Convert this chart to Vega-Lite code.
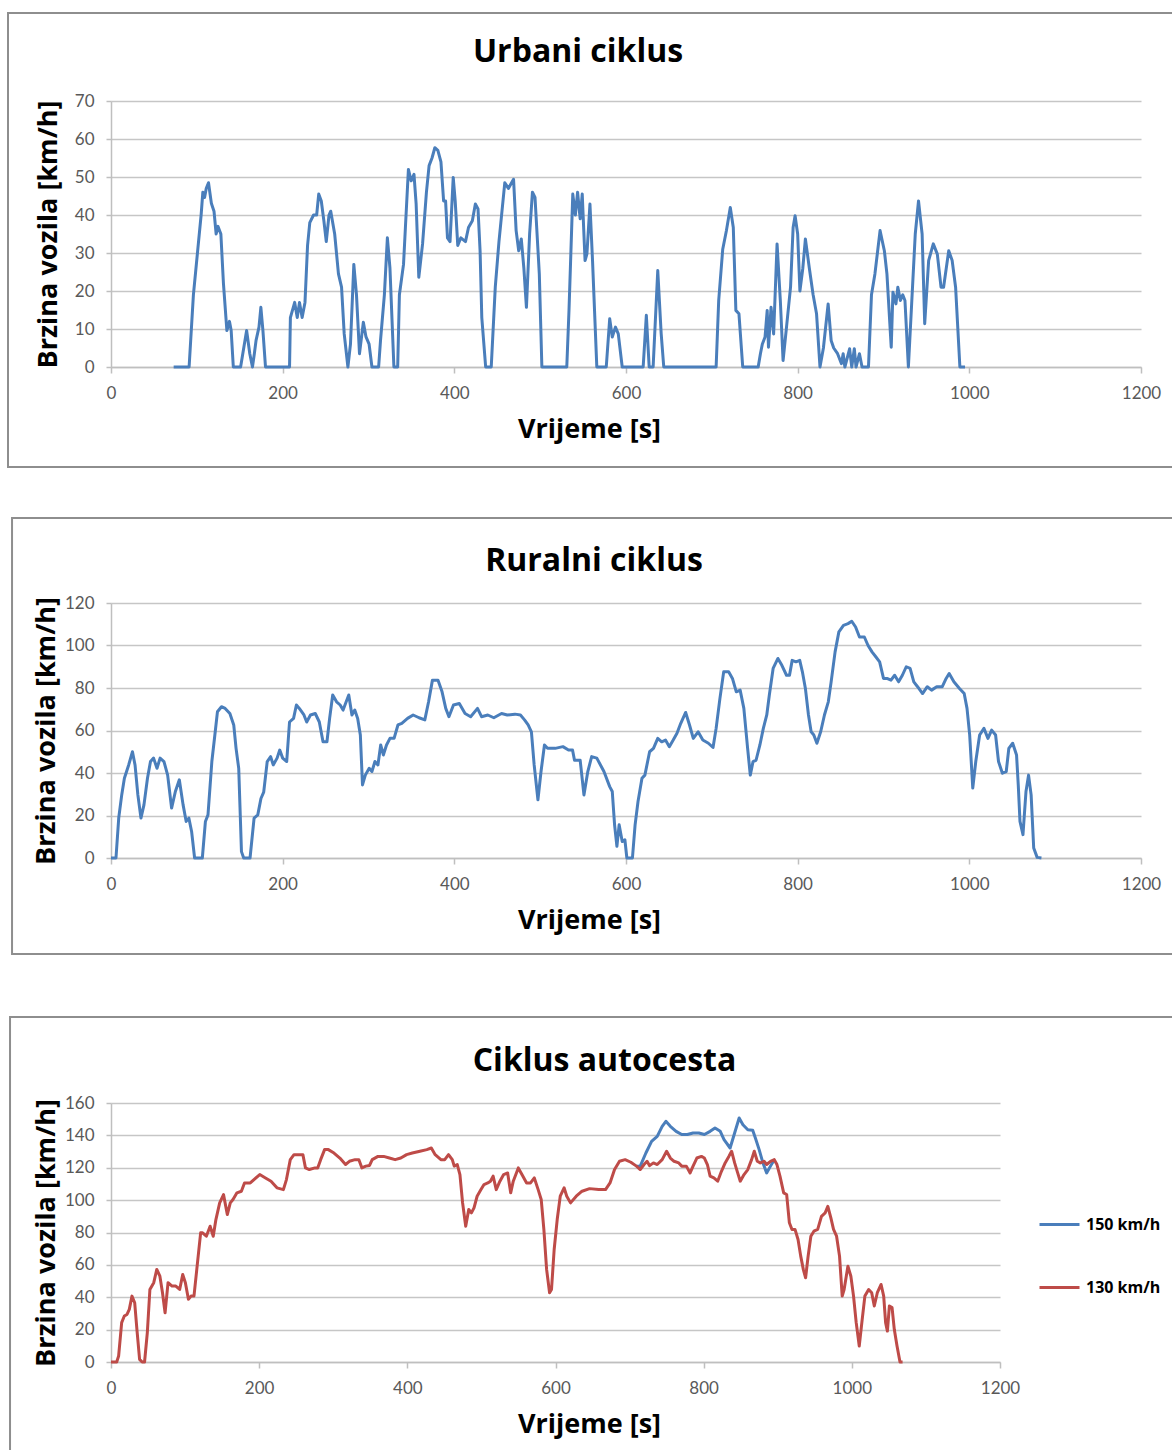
{
  "$schema": "https://vega.github.io/schema/vega-lite/v6.json",
  "padding": {"top": 11, "left": 7, "right": 0, "bottom": 0},
  "background": "white",
  "config": {
    "view": {"stroke": null},
    "axis": {"labelFont": "Lato", "labelFontSize": 17, "labelColor": "#595959", "titleFont": "Open Sans", "titleFontWeight": "bold", "titleFontSize": 27, "titleColor": "#000000", "domainColor": "#BFBFBF", "domainWidth": 1.5, "tickColor": "#BFBFBF", "tickWidth": 1.5, "gridColor": "#C6C6C6", "gridWidth": 1.5},
    "axisX": {"grid": false, "tickSize": 6, "labelPadding": 12, "titlePadding": 15, "labelFlush": false},
    "axisY": {"grid": true, "tickSize": 5, "labelPadding": 12, "titlePadding": 12},
    "title": {"font": "Open Sans", "fontWeight": "bold", "fontSize": 32, "color": "#000000", "anchor": "middle", "frame": "group", "baseline": "alphabetic"},
    "line": {"strokeWidth": 3, "strokeJoin": "round"}
  },
  "datasets": {
    "urban": [
      {"t":73,"v":0},{"t":91,"v":0},{"t":96,"v":19},{"t":105,"v":40},{"t":107,"v":46},{"t":109,"v":44.6},{"t":111,"v":47},{"t":113.6,"v":48.5},{"t":117,"v":43},{"t":120,"v":41},{"t":122.5,"v":35},{"t":124.7,"v":37},{"t":128,"v":35},{"t":131,"v":22},{"t":135,"v":9.6},{"t":138,"v":12},{"t":140,"v":9.6},{"t":142.5,"v":0},{"t":151,"v":0},{"t":158,"v":9.6},{"t":161.7,"v":3.5},{"t":164.8,"v":0},{"t":167,"v":3.5},{"t":169,"v":7},{"t":172.4,"v":10.5},{"t":174.6,"v":15.7},{"t":177,"v":9.6},{"t":180,"v":0},{"t":208,"v":0},{"t":209,"v":13},{"t":214,"v":17},{"t":217,"v":13},{"t":219.6,"v":17},{"t":222.7,"v":13},{"t":226,"v":17},{"t":229,"v":32},{"t":231.6,"v":38},{"t":236,"v":40},{"t":239.6,"v":40},{"t":242,"v":45.5},{"t":245,"v":43.7},{"t":248,"v":38.5},{"t":250.8,"v":33},{"t":254,"v":40},{"t":256,"v":41},{"t":260.6,"v":35},{"t":265,"v":24.5},{"t":268.6,"v":21},{"t":271.7,"v":8.7},{"t":276,"v":0},{"t":279,"v":6},{"t":282.9,"v":27},{"t":286,"v":19},{"t":289.5,"v":3.5},{"t":294,"v":11.8},{"t":297,"v":8},{"t":300.7,"v":6},{"t":304,"v":0},{"t":311.8,"v":0},{"t":314,"v":7},{"t":318.5,"v":19},{"t":322,"v":34},{"t":325,"v":26},{"t":329.6,"v":0},{"t":334,"v":0},{"t":336,"v":19},{"t":340.8,"v":27},{"t":343,"v":36.7},{"t":346.5,"v":52},{"t":349.7,"v":49},{"t":353,"v":50.7},{"t":355.5,"v":42.9},{"t":358.6,"v":23.6},{"t":363,"v":32.4},{"t":367.5,"v":46},{"t":370.6,"v":53},{"t":374,"v":55},{"t":377.3,"v":57.7},{"t":380.8,"v":57},{"t":384.4,"v":54},{"t":387.5,"v":43.7},{"t":389.8,"v":43.7},{"t":392,"v":34},{"t":395,"v":33},{"t":398.7,"v":49.9},{"t":401,"v":43.7},{"t":404,"v":32},{"t":407.6,"v":34},{"t":413,"v":33},{"t":416.5,"v":36.7},{"t":421,"v":38.5},{"t":424.5,"v":42.9},{"t":427.6,"v":41.6},{"t":430,"v":30.6},{"t":432,"v":13},{"t":436.5,"v":0},{"t":443,"v":0},{"t":447.7,"v":21},{"t":452,"v":33},{"t":458.8,"v":48.5},{"t":463,"v":47},{"t":469,"v":49.4},{"t":472,"v":35.9},{"t":475,"v":30.6},{"t":478,"v":33.7},{"t":481,"v":26},{"t":484,"v":15.7},{"t":487.7,"v":35},{"t":491,"v":46},{"t":494,"v":44.6},{"t":499,"v":24.5},{"t":502,"v":0},{"t":531,"v":0},{"t":533.6,"v":15},{"t":538,"v":45.5},{"t":541,"v":40},{"t":543.6,"v":46},{"t":546.6,"v":39},{"t":549,"v":45.5},{"t":552.3,"v":28},{"t":554.5,"v":29.8},{"t":558,"v":42.9},{"t":561,"v":28},{"t":566,"v":0},{"t":577,"v":0},{"t":581,"v":12.7},{"t":584,"v":7.9},{"t":587.7,"v":10.5},{"t":591,"v":8.7},{"t":595.6,"v":0},{"t":620,"v":0},{"t":623.7,"v":13.6},{"t":627,"v":0},{"t":631.6,"v":0},{"t":637,"v":25.4},{"t":641,"v":8.7},{"t":644,"v":0},{"t":705,"v":0},{"t":708,"v":17.5},{"t":712.7,"v":31},{"t":717,"v":35.9},{"t":721.5,"v":42},{"t":725,"v":36.7},{"t":728,"v":14.9},{"t":731.6,"v":14},{"t":736,"v":0},{"t":754,"v":0},{"t":756.6,"v":3.5},{"t":758.8,"v":6},{"t":762,"v":7.9},{"t":764.5,"v":14.9},{"t":766,"v":5.2},{"t":769,"v":15.7},{"t":772,"v":8.7},{"t":776,"v":32.4},{"t":779.8,"v":17.5},{"t":783,"v":1.7},{"t":787,"v":10.5},{"t":791.7,"v":21},{"t":794.7,"v":36.7},{"t":797,"v":39.8},{"t":800,"v":35},{"t":802.6,"v":20},{"t":806,"v":26},{"t":809,"v":33.7},{"t":813.6,"v":26},{"t":818,"v":19},{"t":822,"v":14},{"t":826,"v":0},{"t":830,"v":5},{"t":835.5,"v":16.6},{"t":839,"v":7},{"t":842,"v":5},{"t":846.5,"v":3.5},{"t":851,"v":0.9},{"t":853,"v":3.5},{"t":855,"v":0},{"t":860.5,"v":4.8},{"t":863,"v":0},{"t":866,"v":4.8},{"t":868,"v":0},{"t":872,"v":3.5},{"t":875,"v":0},{"t":882.5,"v":0},{"t":886,"v":19},{"t":890,"v":24.5},{"t":896,"v":35.9},{"t":901,"v":30.6},{"t":904,"v":24.5},{"t":909,"v":5.2},{"t":911,"v":19.7},{"t":914.5,"v":16.6},{"t":916.7,"v":21},{"t":919.7,"v":17.5},{"t":922.4,"v":19},{"t":925,"v":17.5},{"t":929,"v":0},{"t":933,"v":17.5},{"t":937,"v":35},{"t":940.8,"v":43.7},{"t":945,"v":35},{"t":948,"v":11.4},{"t":952.6,"v":28},{"t":958,"v":32.4},{"t":962.7,"v":29.7},{"t":967,"v":21},{"t":970,"v":21},{"t":976,"v":30.6},{"t":980,"v":28},{"t":984,"v":21},{"t":989,"v":0},{"t":995,"v":0}
    ],
    "rural": [
      {"t":0,"v":0},{"t":5.8,"v":0},{"t":9,"v":18.8},{"t":12.5,"v":29.7},{"t":15.6,"v":37.5},{"t":20.6,"v":43.8},{"t":25,"v":50},{"t":28,"v":43.8},{"t":31.3,"v":29.7},{"t":34.9,"v":18.8},{"t":38.4,"v":25},{"t":42.5,"v":37.5},{"t":46,"v":45.4},{"t":49.6,"v":47},{"t":53.6,"v":42.2},{"t":57.2,"v":47},{"t":61.7,"v":45.4},{"t":66,"v":39},{"t":70.6,"v":23.5},{"t":75,"v":31.3},{"t":79.6,"v":36.8},{"t":84,"v":25},{"t":87.6,"v":17.2},{"t":90.7,"v":18.8},{"t":93.9,"v":12.5},{"t":97.4,"v":0},{"t":106.4,"v":0},{"t":110,"v":17.2},{"t":113,"v":20.3},{"t":117.5,"v":45.4},{"t":121,"v":57.9},{"t":124,"v":68.8},{"t":128.7,"v":71.2},{"t":133,"v":70.4},{"t":138.5,"v":68},{"t":143,"v":62.6},{"t":145.7,"v":51.6},{"t":148.8,"v":42.2},{"t":152,"v":3},{"t":154.6,"v":0},{"t":162,"v":0},{"t":166.7,"v":18.8},{"t":171,"v":20.3},{"t":174.7,"v":28},{"t":177.9,"v":31},{"t":182,"v":45.4},{"t":186,"v":47.7},{"t":189,"v":43.8},{"t":193.5,"v":47},{"t":196.6,"v":50.8},{"t":200,"v":47},{"t":204.7,"v":45.4},{"t":208,"v":64},{"t":212.7,"v":65.7},{"t":216,"v":72},{"t":219.4,"v":70.4},{"t":224.8,"v":67.3},{"t":228,"v":64},{"t":232.4,"v":67.3},{"t":238,"v":68},{"t":242.7,"v":64},{"t":247,"v":54.7},{"t":251.6,"v":54.7},{"t":254.7,"v":65.7},{"t":258.3,"v":76.7},{"t":262.8,"v":73.5},{"t":267,"v":72},{"t":270.4,"v":69.6},{"t":274,"v":73.5},{"t":277,"v":76.7},{"t":280.7,"v":67.3},{"t":284,"v":69.6},{"t":287.4,"v":65.7},{"t":290.5,"v":57.9},{"t":293,"v":34.4},{"t":296.3,"v":39},{"t":300.8,"v":42.2},{"t":304,"v":40.7},{"t":307.5,"v":45.4},{"t":311,"v":43.8},{"t":314.2,"v":53.2},{"t":317.3,"v":48.5},{"t":321,"v":53.2},{"t":325,"v":56.3},{"t":329.8,"v":56.3},{"t":334.3,"v":62.6},{"t":338.8,"v":63.4},{"t":345.5,"v":65.7},{"t":352,"v":67.3},{"t":358.9,"v":66},{"t":365.6,"v":65},{"t":370,"v":73.5},{"t":374.5,"v":83.7},{"t":381,"v":83.7},{"t":385.7,"v":78.2},{"t":390,"v":70.4},{"t":393.7,"v":66.5},{"t":399,"v":72},{"t":405.8,"v":72.7},{"t":412.5,"v":68},{"t":419,"v":66.5},{"t":427,"v":70.4},{"t":431.7,"v":66.5},{"t":439,"v":67.3},{"t":446,"v":66},{"t":455,"v":68},{"t":461.7,"v":67.3},{"t":470.6,"v":67.7},{"t":477,"v":67.3},{"t":481.8,"v":65},{"t":486,"v":62.6},{"t":489.8,"v":59.4},{"t":493,"v":43.8},{"t":497.4,"v":27.4},{"t":501,"v":40.7},{"t":505,"v":53.2},{"t":508.6,"v":51.6},{"t":517.5,"v":51.6},{"t":526.5,"v":52.4},{"t":533,"v":50.8},{"t":537.7,"v":50.8},{"t":540,"v":46},{"t":546.6,"v":46},{"t":551,"v":29.7},{"t":555.5,"v":40.7},{"t":560,"v":47.7},{"t":566,"v":47},{"t":574.3,"v":40.7},{"t":581,"v":33.6},{"t":584,"v":31.3},{"t":586.7,"v":15.6},{"t":589.4,"v":5.5},{"t":592,"v":15.6},{"t":595.6,"v":7.8},{"t":598.7,"v":8.6},{"t":601,"v":0},{"t":607.5,"v":0},{"t":610.6,"v":15.6},{"t":614,"v":26.6},{"t":618.6,"v":37.5},{"t":622,"v":39},{"t":627.5,"v":50},{"t":632,"v":51.6},{"t":637,"v":56.3},{"t":641.6,"v":54.7},{"t":646,"v":55.5},{"t":650.5,"v":52.4},{"t":655,"v":55.5},{"t":659.4,"v":58.7},{"t":663.8,"v":63.4},{"t":669.5,"v":68.5},{"t":674,"v":62.6},{"t":678.4,"v":56.3},{"t":684,"v":59.4},{"t":689.5,"v":55.5},{"t":696,"v":54},{"t":701.4,"v":52},{"t":705,"v":61},{"t":709.4,"v":75},{"t":713.8,"v":87.6},{"t":719.6,"v":87.6},{"t":724,"v":84.5},{"t":728.5,"v":78.2},{"t":733,"v":79},{"t":737.3,"v":70.4},{"t":741.7,"v":51.6},{"t":744.8,"v":39},{"t":748,"v":45.4},{"t":751.5,"v":46},{"t":756,"v":53.2},{"t":760,"v":61},{"t":764,"v":67.3},{"t":767,"v":76.7},{"t":771.4,"v":89.2},{"t":777,"v":93.9},{"t":781.6,"v":90.7},{"t":787,"v":86},{"t":790.5,"v":86},{"t":793.6,"v":93},{"t":798,"v":92.3},{"t":802.4,"v":93},{"t":805.5,"v":87.6},{"t":809,"v":79.8},{"t":812.6,"v":67.3},{"t":815.7,"v":59.4},{"t":818.8,"v":57.9},{"t":822.4,"v":54},{"t":826.8,"v":59.4},{"t":831.2,"v":67.3},{"t":835.7,"v":73.5},{"t":839,"v":82.9},{"t":843.6,"v":97},{"t":848,"v":106.4},{"t":853.4,"v":109.5},{"t":858.7,"v":110.3},{"t":863,"v":111.4},{"t":867.5,"v":108.7},{"t":872,"v":104},{"t":877.7,"v":104},{"t":882,"v":100},{"t":886.6,"v":97},{"t":891,"v":94.7},{"t":895.5,"v":92.3},{"t":900,"v":84.5},{"t":904,"v":84.5},{"t":908.7,"v":83.7},{"t":913,"v":86},{"t":917.6,"v":82.9},{"t":922,"v":86},{"t":926.5,"v":90},{"t":931,"v":89.2},{"t":935.3,"v":82.9},{"t":939.7,"v":80.6},{"t":945.5,"v":77.4},{"t":951,"v":80.6},{"t":956,"v":79},{"t":962,"v":80.6},{"t":968.5,"v":80.6},{"t":973,"v":84.5},{"t":976.5,"v":86.8},{"t":982,"v":82.9},{"t":988.5,"v":79.8},{"t":994,"v":77.4},{"t":997.3,"v":70.4},{"t":1000.4,"v":57.9},{"t":1004,"v":32.9},{"t":1007.5,"v":45.4},{"t":1012,"v":57.9},{"t":1017,"v":61},{"t":1021.7,"v":56.3},{"t":1026,"v":60.2},{"t":1030.6,"v":57.9},{"t":1034,"v":45.4},{"t":1038.5,"v":39.9},{"t":1043,"v":40.7},{"t":1046,"v":51.6},{"t":1050.5,"v":54},{"t":1055,"v":48.5},{"t":1057,"v":34.4},{"t":1059,"v":17.2},{"t":1062.5,"v":11},{"t":1066,"v":31.3},{"t":1069,"v":39},{"t":1072,"v":29.7},{"t":1075,"v":4.7},{"t":1079,"v":0.3},{"t":1084,"v":0}
    ],
    "hw150": [
      {"t":709.3,"v":121,"series":"150 km/h"},{"t":714.4,"v":121,"series":"150 km/h"},{"t":722,"v":129.1,"series":"150 km/h"},{"t":729.7,"v":136.3,"series":"150 km/h"},{"t":737.3,"v":139.4,"series":"150 km/h"},{"t":744,"v":145.6,"series":"150 km/h"},{"t":749,"v":148.7,"series":"150 km/h"},{"t":755,"v":145.6,"series":"150 km/h"},{"t":762.8,"v":142.5,"series":"150 km/h"},{"t":770.4,"v":140.5,"series":"150 km/h"},{"t":778,"v":140.5,"series":"150 km/h"},{"t":785.7,"v":141.5,"series":"150 km/h"},{"t":793.4,"v":141.5,"series":"150 km/h"},{"t":801,"v":140.5,"series":"150 km/h"},{"t":808.7,"v":142.5,"series":"150 km/h"},{"t":815.3,"v":144.6,"series":"150 km/h"},{"t":822.4,"v":142.5,"series":"150 km/h"},{"t":827.5,"v":137.4,"series":"150 km/h"},{"t":835.7,"v":132.2,"series":"150 km/h"},{"t":841.8,"v":141.5,"series":"150 km/h"},{"t":847.9,"v":150.7,"series":"150 km/h"},{"t":853,"v":146.6,"series":"150 km/h"},{"t":859.6,"v":143.5,"series":"150 km/h"},{"t":866.2,"v":143.1,"series":"150 km/h"},{"t":869.8,"v":138.4,"series":"150 km/h"},{"t":874.9,"v":131.2,"series":"150 km/h"},{"t":880,"v":123,"series":"150 km/h"},{"t":885,"v":116.8,"series":"150 km/h"},{"t":890.2,"v":121,"series":"150 km/h"},{"t":895.3,"v":125,"series":"150 km/h"}
    ],
    "hw130": [
      {"t":0,"v":0,"series":"130 km/h"},{"t":7.7,"v":0,"series":"130 km/h"},{"t":10.3,"v":3.7,"series":"130 km/h"},{"t":14.4,"v":24.3,"series":"130 km/h"},{"t":18,"v":28.4,"series":"130 km/h"},{"t":21.6,"v":29.4,"series":"130 km/h"},{"t":24.7,"v":32.5,"series":"130 km/h"},{"t":28.3,"v":40.7,"series":"130 km/h"},{"t":32,"v":36.6,"series":"130 km/h"},{"t":35,"v":20,"series":"130 km/h"},{"t":38.6,"v":1.6,"series":"130 km/h"},{"t":42,"v":0,"series":"130 km/h"},{"t":45.3,"v":0,"series":"130 km/h"},{"t":49,"v":18,"series":"130 km/h"},{"t":52.5,"v":44.8,"series":"130 km/h"},{"t":57.7,"v":49,"series":"130 km/h"},{"t":61.8,"v":57.2,"series":"130 km/h"},{"t":66,"v":53,"series":"130 km/h"},{"t":69.5,"v":42.8,"series":"130 km/h"},{"t":73,"v":30.4,"series":"130 km/h"},{"t":77,"v":49,"series":"130 km/h"},{"t":82.4,"v":46.9,"series":"130 km/h"},{"t":87.5,"v":46.9,"series":"130 km/h"},{"t":92.7,"v":44.8,"series":"130 km/h"},{"t":96.8,"v":54,"series":"130 km/h"},{"t":100.4,"v":49,"series":"130 km/h"},{"t":104.5,"v":38.7,"series":"130 km/h"},{"t":108,"v":40.7,"series":"130 km/h"},{"t":112,"v":40.7,"series":"130 km/h"},{"t":115.8,"v":57.2,"series":"130 km/h"},{"t":121,"v":79.8,"series":"130 km/h"},{"t":123.6,"v":79.8,"series":"130 km/h"},{"t":128.7,"v":77.7,"series":"130 km/h"},{"t":133.8,"v":83.9,"series":"130 km/h"},{"t":138,"v":77.7,"series":"130 km/h"},{"t":141.6,"v":88,"series":"130 km/h"},{"t":146.7,"v":98.3,"series":"130 km/h"},{"t":151.9,"v":103.4,"series":"130 km/h"},{"t":157,"v":91.1,"series":"130 km/h"},{"t":161,"v":98.3,"series":"130 km/h"},{"t":164.7,"v":100.4,"series":"130 km/h"},{"t":170,"v":104.5,"series":"130 km/h"},{"t":176,"v":105.5,"series":"130 km/h"},{"t":180.2,"v":110.6,"series":"130 km/h"},{"t":188,"v":110.6,"series":"130 km/h"},{"t":193,"v":112.7,"series":"130 km/h"},{"t":200.8,"v":115.8,"series":"130 km/h"},{"t":208.5,"v":113.7,"series":"130 km/h"},{"t":216,"v":111.7,"series":"130 km/h"},{"t":224,"v":107.6,"series":"130 km/h"},{"t":232.7,"v":106.5,"series":"130 km/h"},{"t":236.8,"v":112.7,"series":"130 km/h"},{"t":242,"v":125,"series":"130 km/h"},{"t":247,"v":128.1,"series":"130 km/h"},{"t":254.8,"v":128.1,"series":"130 km/h"},{"t":259,"v":128.1,"series":"130 km/h"},{"t":262.5,"v":119.9,"series":"130 km/h"},{"t":267.7,"v":118.9,"series":"130 km/h"},{"t":275.4,"v":119.9,"series":"130 km/h"},{"t":279,"v":119.9,"series":"130 km/h"},{"t":283,"v":125,"series":"130 km/h"},{"t":288.3,"v":131.2,"series":"130 km/h"},{"t":293.4,"v":131.2,"series":"130 km/h"},{"t":301,"v":129.1,"series":"130 km/h"},{"t":308.9,"v":126,"series":"130 km/h"},{"t":316.6,"v":122,"series":"130 km/h"},{"t":321.8,"v":124,"series":"130 km/h"},{"t":329.5,"v":125,"series":"130 km/h"},{"t":334.6,"v":125,"series":"130 km/h"},{"t":338.7,"v":119.9,"series":"130 km/h"},{"t":344,"v":121,"series":"130 km/h"},{"t":349,"v":121.4,"series":"130 km/h"},{"t":352.6,"v":125,"series":"130 km/h"},{"t":360.4,"v":127,"series":"130 km/h"},{"t":368,"v":127,"series":"130 km/h"},{"t":375.8,"v":126,"series":"130 km/h"},{"t":383.5,"v":125,"series":"130 km/h"},{"t":391.2,"v":126,"series":"130 km/h"},{"t":399,"v":128.1,"series":"130 km/h"},{"t":406.7,"v":129.1,"series":"130 km/h"},{"t":417,"v":130.2,"series":"130 km/h"},{"t":426.3,"v":131.2,"series":"130 km/h"},{"t":432.4,"v":132.2,"series":"130 km/h"},{"t":437.6,"v":128.1,"series":"130 km/h"},{"t":445.3,"v":125,"series":"130 km/h"},{"t":450.5,"v":125,"series":"130 km/h"},{"t":455.6,"v":128.1,"series":"130 km/h"},{"t":460.7,"v":125,"series":"130 km/h"},{"t":463.3,"v":121,"series":"130 km/h"},{"t":467.4,"v":122,"series":"130 km/h"},{"t":471,"v":115.8,"series":"130 km/h"},{"t":474.6,"v":98.3,"series":"130 km/h"},{"t":478.8,"v":83.9,"series":"130 km/h"},{"t":482.9,"v":94.2,"series":"130 km/h"},{"t":486.5,"v":92.1,"series":"130 km/h"},{"t":490,"v":95.2,"series":"130 km/h"},{"t":494.2,"v":102.4,"series":"130 km/h"},{"t":499.4,"v":106.5,"series":"130 km/h"},{"t":503.5,"v":109.6,"series":"130 km/h"},{"t":508.6,"v":110.6,"series":"130 km/h"},{"t":512.2,"v":111.7,"series":"130 km/h"},{"t":515.8,"v":114.8,"series":"130 km/h"},{"t":520,"v":106.5,"series":"130 km/h"},{"t":525,"v":111.7,"series":"130 km/h"},{"t":530,"v":115.8,"series":"130 km/h"},{"t":535.4,"v":116.8,"series":"130 km/h"},{"t":539.5,"v":104.5,"series":"130 km/h"},{"t":543,"v":111.7,"series":"130 km/h"},{"t":549.8,"v":119.9,"series":"130 km/h"},{"t":556,"v":114.8,"series":"130 km/h"},{"t":561,"v":110.6,"series":"130 km/h"},{"t":566.3,"v":110.6,"series":"130 km/h"},{"t":571.4,"v":113.7,"series":"130 km/h"},{"t":576.6,"v":106.5,"series":"130 km/h"},{"t":580.7,"v":100.4,"series":"130 km/h"},{"t":584.3,"v":81.9,"series":"130 km/h"},{"t":588,"v":57.2,"series":"130 km/h"},{"t":592,"v":42.8,"series":"130 km/h"},{"t":594.6,"v":44.8,"series":"130 km/h"},{"t":598.2,"v":69.5,"series":"130 km/h"},{"t":602.3,"v":88,"series":"130 km/h"},{"t":606.4,"v":102.4,"series":"130 km/h"},{"t":611.6,"v":107.6,"series":"130 km/h"},{"t":615.2,"v":102.4,"series":"130 km/h"},{"t":620.3,"v":98.3,"series":"130 km/h"},{"t":628,"v":102.4,"series":"130 km/h"},{"t":635.8,"v":105.5,"series":"130 km/h"},{"t":646,"v":107.1,"series":"130 km/h"},{"t":658.3,"v":106.5,"series":"130 km/h"},{"t":667.5,"v":106.5,"series":"130 km/h"},{"t":673.6,"v":110.6,"series":"130 km/h"},{"t":679.7,"v":118.9,"series":"130 km/h"},{"t":686.4,"v":124,"series":"130 km/h"},{"t":694,"v":125,"series":"130 km/h"},{"t":701.7,"v":123.4,"series":"130 km/h"},{"t":709.3,"v":121,"series":"130 km/h"},{"t":714.4,"v":118.9,"series":"130 km/h"},{"t":719.5,"v":122,"series":"130 km/h"},{"t":723.6,"v":124,"series":"130 km/h"},{"t":727,"v":121.3,"series":"130 km/h"},{"t":732.2,"v":123,"series":"130 km/h"},{"t":737.3,"v":122,"series":"130 km/h"},{"t":744,"v":125,"series":"130 km/h"},{"t":750,"v":130.2,"series":"130 km/h"},{"t":755,"v":126,"series":"130 km/h"},{"t":760,"v":124,"series":"130 km/h"},{"t":766.4,"v":123,"series":"130 km/h"},{"t":770.4,"v":121,"series":"130 km/h"},{"t":776.6,"v":121,"series":"130 km/h"},{"t":781.7,"v":116.8,"series":"130 km/h"},{"t":785.7,"v":121,"series":"130 km/h"},{"t":790.8,"v":126,"series":"130 km/h"},{"t":797,"v":127,"series":"130 km/h"},{"t":801,"v":126,"series":"130 km/h"},{"t":805,"v":122,"series":"130 km/h"},{"t":808.7,"v":114.8,"series":"130 km/h"},{"t":813.8,"v":113.7,"series":"130 km/h"},{"t":818.9,"v":111.7,"series":"130 km/h"},{"t":824,"v":117.8,"series":"130 km/h"},{"t":829,"v":123,"series":"130 km/h"},{"t":834,"v":127,"series":"130 km/h"},{"t":837.7,"v":130.2,"series":"130 km/h"},{"t":841.8,"v":123,"series":"130 km/h"},{"t":845.9,"v":116.8,"series":"130 km/h"},{"t":849.4,"v":111.7,"series":"130 km/h"},{"t":854.5,"v":115.8,"series":"130 km/h"},{"t":859.6,"v":118.9,"series":"130 km/h"},{"t":864.7,"v":125,"series":"130 km/h"},{"t":868.3,"v":130.2,"series":"130 km/h"},{"t":872.4,"v":124,"series":"130 km/h"},{"t":876.4,"v":123,"series":"130 km/h"},{"t":881.5,"v":124,"series":"130 km/h"},{"t":885,"v":122,"series":"130 km/h"},{"t":890.2,"v":124,"series":"130 km/h"},{"t":895.3,"v":125,"series":"130 km/h"},{"t":898.9,"v":122,"series":"130 km/h"},{"t":903,"v":114.8,"series":"130 km/h"},{"t":908,"v":104.5,"series":"130 km/h"},{"t":912,"v":103.5,"series":"130 km/h"},{"t":915.7,"v":86,"series":"130 km/h"},{"t":919.2,"v":81.9,"series":"130 km/h"},{"t":923.3,"v":81.9,"series":"130 km/h"},{"t":927.4,"v":75.7,"series":"130 km/h"},{"t":931,"v":65.4,"series":"130 km/h"},{"t":934.5,"v":57.2,"series":"130 km/h"},{"t":937.6,"v":52,"series":"130 km/h"},{"t":941,"v":65.4,"series":"130 km/h"},{"t":944.7,"v":77.7,"series":"130 km/h"},{"t":948.8,"v":80.8,"series":"130 km/h"},{"t":953.9,"v":81.9,"series":"130 km/h"},{"t":959,"v":90,"series":"130 km/h"},{"t":964,"v":92.1,"series":"130 km/h"},{"t":967.6,"v":96.2,"series":"130 km/h"},{"t":971.7,"v":89,"series":"130 km/h"},{"t":975.3,"v":81.9,"series":"130 km/h"},{"t":979.4,"v":77.7,"series":"130 km/h"},{"t":983.4,"v":65.4,"series":"130 km/h"},{"t":987,"v":40.7,"series":"130 km/h"},{"t":989.6,"v":44.8,"series":"130 km/h"},{"t":994.7,"v":59.2,"series":"130 km/h"},{"t":998.7,"v":53,"series":"130 km/h"},{"t":1002.3,"v":40.7,"series":"130 km/h"},{"t":1005.9,"v":24.3,"series":"130 km/h"},{"t":1010,"v":9.9,"series":"130 km/h"},{"t":1014,"v":26.3,"series":"130 km/h"},{"t":1017.6,"v":40.7,"series":"130 km/h"},{"t":1022.7,"v":44.8,"series":"130 km/h"},{"t":1026.8,"v":42.8,"series":"130 km/h"},{"t":1030.3,"v":34.6,"series":"130 km/h"},{"t":1034.4,"v":42.8,"series":"130 km/h"},{"t":1039.5,"v":47.9,"series":"130 km/h"},{"t":1043,"v":40.7,"series":"130 km/h"},{"t":1045.6,"v":24.3,"series":"130 km/h"},{"t":1048,"v":19.1,"series":"130 km/h"},{"t":1050.7,"v":34.6,"series":"130 km/h"},{"t":1054.3,"v":33.6,"series":"130 km/h"},{"t":1057.3,"v":20.2,"series":"130 km/h"},{"t":1061,"v":9.9,"series":"130 km/h"},{"t":1065,"v":0,"series":"130 km/h"},{"t":1068.5,"v":0,"series":"130 km/h"}
    ]
  },
  "spacing": 60,
  "vconcat": [
    {
      "spacing": 48,
      "vconcat": [
        {
          "width": 1030,
          "height": 266,
          "title": {"text": "Urbani ciklus", "dx": -48, "offset": -57},
          "layer": [
            {
              "data": {"values": [{}]},
              "mark": {"type": "rect", "fill": null, "stroke": "#8E8E8E", "strokeWidth": 2, "clip": false},
              "encoding": {
                "x": {"datum": -120.0, "type": "quantitative", "scale": {"domain": [0, 1200], "nice": false}, "axis": {"title": "Vrijeme [s]", "format": "d", "values": [0, 200, 400, 600, 800, 1000, 1200], "titleX": 478}},
                "x2": {"datum": 1251.3},
                "y": {"datum": 93.16, "type": "quantitative", "scale": {"domain": [0, 70], "nice": false}, "axis": {"title": "Brzina vozila [km/h]", "values": [0, 10, 20, 30, 40, 50, 60, 70]}},
                "y2": {"datum": -26.32}
              }
            },
            {
              "data": {"name": "urban"},
              "mark": {"type": "line", "color": "#4A7EBB"},
              "encoding": {
                "x": {"field": "t", "type": "quantitative", "scale": {"domain": [0, 1200], "nice": false}, "axis": {"title": "Vrijeme [s]", "format": "d", "values": [0, 200, 400, 600, 800, 1000, 1200], "titleX": 478}},
                "y": {"field": "v", "type": "quantitative", "scale": {"domain": [0, 70], "nice": false}, "axis": {"title": "Brzina vozila [km/h]", "values": [0, 10, 20, 30, 40, 50, 60, 70]}}
              }
            }
          ]
        },
        {
          "width": 1030,
          "height": 255,
          "title": {"text": "Ruralni ciklus", "dx": -32, "offset": -61},
          "layer": [
            {
              "data": {"values": [{}]},
              "mark": {"type": "rect", "fill": null, "stroke": "#8E8E8E", "strokeWidth": 2, "clip": false},
              "encoding": {
                "x": {"datum": -115.3, "type": "quantitative", "scale": {"domain": [0, 1200], "nice": false}, "axis": {"title": "Vrijeme [s]", "format": "d", "values": [0, 200, 400, 600, 800, 1000, 1200], "titleX": 478}},
                "x2": {"datum": 1251.3},
                "y": {"datum": 160, "type": "quantitative", "scale": {"domain": [0, 120], "nice": false}, "axis": {"title": "Brzina vozila [km/h]", "titlePadding": 4, "values": [0, 20, 40, 60, 80, 100, 120]}},
                "y2": {"datum": -45.18}
              }
            },
            {
              "data": {"name": "rural"},
              "mark": {"type": "line", "color": "#4A7EBB"},
              "encoding": {
                "x": {"field": "t", "type": "quantitative", "scale": {"domain": [0, 1200], "nice": false}, "axis": {"title": "Vrijeme [s]", "format": "d", "values": [0, 200, 400, 600, 800, 1000, 1200], "titleX": 478}},
                "y": {"field": "v", "type": "quantitative", "scale": {"domain": [0, 120], "nice": false}, "axis": {"title": "Brzina vozila [km/h]", "titlePadding": 4, "values": [0, 20, 40, 60, 80, 100, 120]}}
              }
            }
          ]
        }
      ]
    },
    {
      "width": 889,
      "height": 259,
      "title": {"text": "Ciklus autocesta", "dx": 49, "offset": -62},
      "layer": [
        {
          "data": {"values": [{}]},
          "mark": {"type": "rect", "fill": null, "stroke": "#8E8E8E", "strokeWidth": 2, "clip": false},
          "encoding": {
            "x": {"datum": -136.3, "type": "quantitative", "scale": {"domain": [0, 1200], "nice": false}, "axis": {"title": "Vrijeme [s]", "format": "d", "values": [0, 200, 400, 600, 800, 1000, 1200], "titleX": 478}},
            "x2": {"datum": 1449.7},
            "y": {"datum": 213.1, "type": "quantitative", "scale": {"domain": [0, 160], "nice": false}, "axis": {"title": "Brzina vozila [km/h]", "titlePadding": 4, "values": [0, 20, 40, 60, 80, 100, 120, 140, 160]}},
            "y2": {"datum": -65.5}
          }
        },
        {
          "data": {"name": "hw150"},
          "mark": {"type": "line"},
          "encoding": {
            "x": {"field": "t", "type": "quantitative", "scale": {"domain": [0, 1200], "nice": false}, "axis": {"title": "Vrijeme [s]", "format": "d", "values": [0, 200, 400, 600, 800, 1000, 1200], "titleX": 478}},
            "y": {"field": "v", "type": "quantitative", "scale": {"domain": [0, 160], "nice": false}, "axis": {"title": "Brzina vozila [km/h]", "titlePadding": 4, "values": [0, 20, 40, 60, 80, 100, 120, 140, 160]}},
            "color": {"field": "series", "type": "nominal", "scale": {"domain": ["150 km/h", "130 km/h"], "range": ["#4A7EBB", "#BE4B48"]}, "legend": {"title": null, "orient": "none", "legendX": 927, "legendY": 1102, "symbolType": "stroke", "symbolSize": 1600, "symbolStrokeWidth": 3, "labelFont": "Open Sans", "labelFontWeight": "bold", "labelFontSize": 16, "labelColor": "#000000", "rowPadding": 33, "labelOffset": 5, "padding": 0}}
          }
        },
        {
          "data": {"name": "hw130"},
          "mark": {"type": "line"},
          "encoding": {
            "x": {"field": "t", "type": "quantitative", "scale": {"domain": [0, 1200], "nice": false}, "axis": {"title": "Vrijeme [s]", "format": "d", "values": [0, 200, 400, 600, 800, 1000, 1200], "titleX": 478}},
            "y": {"field": "v", "type": "quantitative", "scale": {"domain": [0, 160], "nice": false}, "axis": {"title": "Brzina vozila [km/h]", "titlePadding": 4, "values": [0, 20, 40, 60, 80, 100, 120, 140, 160]}},
            "color": {"field": "series", "type": "nominal", "scale": {"domain": ["150 km/h", "130 km/h"], "range": ["#4A7EBB", "#BE4B48"]}, "legend": {"title": null, "orient": "none", "legendX": 927, "legendY": 1102, "symbolType": "stroke", "symbolSize": 1600, "symbolStrokeWidth": 3, "labelFont": "Open Sans", "labelFontWeight": "bold", "labelFontSize": 16, "labelColor": "#000000", "rowPadding": 33, "labelOffset": 5, "padding": 0}}
          }
        }
      ]
    }
  ]
}
